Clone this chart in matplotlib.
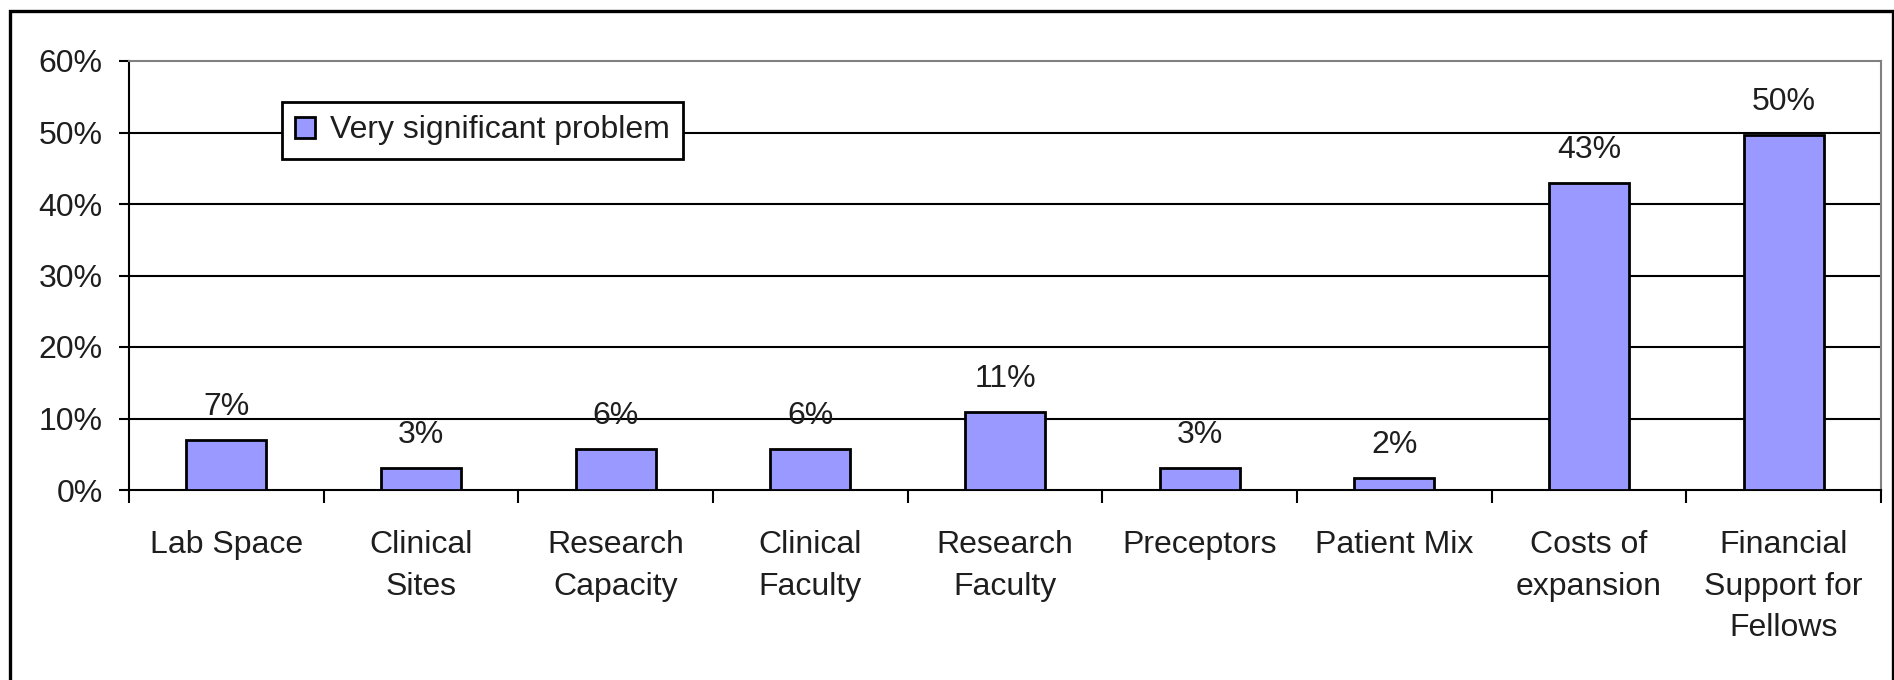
import matplotlib.pyplot as plt
from matplotlib.patches import Rectangle
import numpy as np

plt.rcParams['font.family'] = ['Liberation Sans', 'DejaVu Sans']

# data
categories = ["Lab Space", "Clinical\nSites", "Research\nCapacity", "Clinical\nFaculty",
              "Research\nFaculty", "Preceptors", "Patient Mix", "Costs of\nexpansion",
              "Financial\nSupport for\nFellows"]
values = [7.0, 3.1, 5.7, 5.7, 10.9, 3.1, 1.7, 42.9, 49.6]
series_name = "Very significant problem"
yticks = [0, 10, 20, 30, 40, 50, 60]

W, H = 1894, 680
fs = 23
txt = "#1e1e1e"
fig = plt.figure(figsize=(W / 100, H / 100), dpi=100)
ax = fig.add_axes([129 / W, 1 - 490 / H, (1881 - 129) / W, (490 - 61) / H])

x = np.arange(len(categories))
ax.bar(x, values, width=0.41, color="#9999FF", edgecolor="black",
       linewidth=2.0, label=series_name, zorder=3)

# data labels above bars
for xi, v in zip(x, values):
    ax.annotate(f"{round(v)}%", (xi, v), xytext=(0, 24), textcoords="offset points",
                ha="center", va="center", fontsize=fs, color=txt)

ax.set_xlim(-0.5, len(categories) - 0.5)
ax.set_ylim(0, 60)
ax.set_yticks(yticks)
ax.set_yticklabels([f"{t}%" for t in yticks], fontsize=fs, color=txt)
ax.tick_params(axis="y", length=7, width=1.5, direction="out", pad=12)

# category labels centered, ticks at boundaries
ax.set_xticks(x)
ax.set_xticklabels(categories, fontsize=fs, color=txt, linespacing=1.5, va="top")
ax.tick_params(axis="x", which="major", length=0, pad=29)
ax.set_xticks(np.arange(-0.5, len(categories)), minor=True)
ax.tick_params(axis="x", which="minor", length=9.5, width=1.5, direction="out")

# gridlines (black), top one is the grey frame
for t in yticks[1:-1]:
    ax.axhline(t, color="black", linewidth=1.5, zorder=1)

ax.spines["left"].set_linewidth(1.5)
ax.spines["bottom"].set_linewidth(1.5)
ax.spines["top"].set_color("#808080")
ax.spines["right"].set_color("#808080")
ax.spines["top"].set_linewidth(1.5)
ax.spines["right"].set_linewidth(1.5)

leg = ax.legend(loc="upper left", bbox_to_anchor=(0.0873, 0.9044), borderaxespad=0,
                fontsize=fs, fancybox=False, framealpha=1, edgecolor="black",
                handlelength=0.62, handleheight=0.62, handletextpad=0.45,
                borderpad=0.42)
leg.get_frame().set_linewidth(2)
for t in leg.get_texts():
    t.set_color(txt)

# outer chart border
fig.patches.append(Rectangle((10 / W, -0.05), (1893 - 10) / W, 1.05 - 11 / H,
                             transform=fig.transFigure, fill=False,
                             edgecolor="black", linewidth=2.4, clip_on=False))

fig.savefig("out.png", dpi=100)
